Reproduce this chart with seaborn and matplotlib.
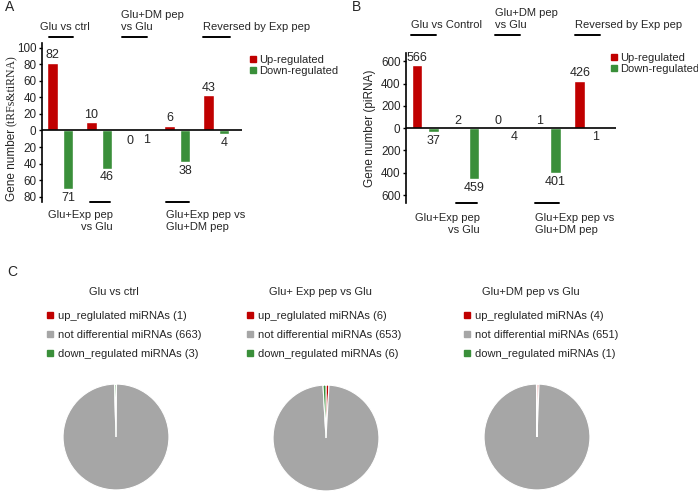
import numpy as np
import pandas as pd
import matplotlib
matplotlib.use('Agg')
import matplotlib.pyplot as plt
from matplotlib.patches import Patch
from matplotlib.lines import Line2D
import seaborn as sns

sns.set_style('white')
plt.rcParams['font.family'] = ['Liberation Sans', 'DejaVu Sans']

# panel A / B data
groups = ['Glu vs ctrl', 'Glu+Exp pep vs Glu', 'Glu+DM pep vs Glu',
          'Glu+Exp pep vs Glu+DM pep', 'Reversed by Exp pep']
kinds = ['Up-regulated', 'Down-regulated']
up_trf = [82, 10, 0, 6, 43]
down_trf = [71, 46, 1, 38, 4]
up_pirna = [566, 2, 0, 1, 426]
down_pirna = [37, 459, 4, 401, 1]
trf_ticks = [100, 80, 60, 40, 20, 0, -20, -40, -60, -80]
pirna_ticks = [600, 400, 200, 0, -200, -400, -600]

# panel C data
pie_titles = ['Glu vs ctrl', 'Glu+ Exp pep vs Glu', 'Glu+DM pep vs Glu']
pie_up = [1, 6, 4]
pie_not = [663, 653, 651]
pie_down = [3, 6, 1]

RED = '#C00000'
GREEN = '#3A8F3A'
GREY = '#A6A6A6'

W, H = 698, 493
fig = plt.figure(figsize=(W / 100, H / 100), dpi=100)


def px(x, y):
    return x / W, 1 - y / H


def box(l, t, r, b):
    return [l / W, 1 - b / H, (r - l) / W, (b - t) / H]


def txt(x, y, s, **kw):
    kw.setdefault('fontsize', 8)
    kw.setdefault('va', 'center')
    fig.text(*px(x, y), s, **kw)


def hline(x0, x1, y, lw=1.4):
    fig.add_artist(Line2D([x0 / W, x1 / W], [1 - y / H] * 2, color='black', lw=lw))


def bar_panel(rect, up, down, ticks, ylim, xlim, legend_at, zero_below=False):
    ax = fig.add_axes(box(*rect))
    df = pd.DataFrame({
        'group': groups * 2,
        'value': list(up) + [-d for d in down],
        'kind': [kinds[0]] * len(up) + [kinds[1]] * len(down),
    })
    sns.barplot(data=df, x='group', y='value', hue='kind', hue_order=kinds,
                palette=[RED, GREEN], width=0.8, gap=0.35, saturation=1,
                errorbar=None, ax=ax)
    ax.set_xlim(*xlim)
    ax.set_ylim(*ylim)
    ax.axhline(0, color='black', lw=1.2)
    for s in ['top', 'right', 'bottom']:
        ax.spines[s].set_visible(False)
    ax.spines['left'].set_color('black')
    ax.spines['left'].set_linewidth(1.2)
    ax.set_xticks([])
    ax.set_xlabel('')
    ax.set_ylabel('')
    ax.set_yticks(ticks)
    ax.set_yticklabels([str(abs(t)) for t in ticks])
    ax.tick_params(axis='y', direction='out', length=2.5, width=1,
                   labelsize=8.4, pad=1.5, left=True, color='black')

    # value labels
    for bar, v in zip(ax.containers[0], up):
        xc = bar.get_x() + bar.get_width() / 2
        if v == 0 and zero_below:
            ax.annotate(str(v), (xc, 0), xytext=(0, -3), textcoords='offset points',
                        ha='center', va='top', fontsize=9)
        else:
            ax.annotate(str(v), (xc, v), xytext=(0, 1), textcoords='offset points',
                        ha='center', va='bottom', fontsize=9)
    for bar, v in zip(ax.containers[1], down):
        xc = bar.get_x() + bar.get_width() / 2
        ax.annotate(str(v), (xc, -v), xytext=(0, -2), textcoords='offset points',
                    ha='center', va='top', fontsize=9)

    handles = [Patch(color=RED), Patch(color=GREEN)]
    ax.legend(handles, kinds, loc='upper left', bbox_to_anchor=px(*legend_at),
              bbox_transform=fig.transFigure, frameon=False, fontsize=8,
              handlelength=0.5, handleheight=0.5, handletextpad=0.3,
              labelspacing=0.1, borderpad=0, borderaxespad=0)
    return ax


# ---- panel A ----
bar_panel((42, 43, 242, 202), up_trf, down_trf, trf_ticks, (-86.4, 105.7),
          (-0.47, 4.66), (250, 55), zero_below=True)
txt(12, 165, 'Gene number', rotation=90, ha='center', fontsize=8.5)
txt(12, 91, '(tRFs&tiRNA)', rotation=90, ha='center', fontsize=8.5,
    family=['Liberation Serif', 'DejaVu Serif'])
txt(5, 7, 'A', fontsize=10)
txt(40, 27, 'Glu vs ctrl')
hline(49, 73, 37)
txt(121, 21, 'Glu+DM pep\nvs Glu', linespacing=1.3)
hline(122, 147, 37)
txt(203, 27, 'Reversed by Exp pep')
hline(203, 230, 37)
hline(90, 110, 202)
txt(113, 221, 'Glu+Exp pep\nvs Glu', ha='right', multialignment='right', linespacing=1.3)
hline(166, 189, 202)
txt(166, 221, 'Glu+Exp pep vs\nGlu+DM pep', ha='left', linespacing=1.3)

# ---- panel B ----
bar_panel((406, 53, 616, 203), up_pirna, down_pirna, pirna_ticks, (-671, 674),
          (-0.47, 4.69), (611, 53))
txt(370, 128, 'Gene number (piRNA)', rotation=90, ha='center', fontsize=8.5)
txt(352, 7, 'B', fontsize=10)
txt(411, 25, 'Glu vs Control')
hline(411, 436, 35)
txt(495, 19, 'Glu+DM pep\nvs Glu', linespacing=1.3)
hline(495, 520, 35)
txt(575, 25, 'Reversed by Exp pep')
hline(575, 600, 35)
hline(456, 477, 203)
txt(480, 224, 'Glu+Exp pep\nvs Glu', ha='right', multialignment='right', linespacing=1.3)
hline(535, 559, 203)
txt(535, 224, 'Glu+Exp pep vs\nGlu+DM pep', ha='left', linespacing=1.3)

# ---- panel C ----
txt(7, 272, 'C', fontsize=10)
pie_centers = [(116, 437), (326, 438), (537, 437)]
title_x = [114, 320, 531]
legend_x = [47, 247, 464]
for i in range(3):
    cx, cy = pie_centers[i]
    ax = fig.add_axes(box(cx - 54, cy - 54, cx + 54, cy + 54))
    vals = [pie_up[i], pie_not[i], pie_down[i]]
    ax.pie(vals, colors=[RED, GREY, GREEN], startangle=90, counterclock=False,
           wedgeprops=dict(edgecolor='white', linewidth=0.8))
    ax.set_xlim(-1.02, 1.02)
    ax.set_ylim(-1.02, 1.02)
    ax.set_aspect('equal')
    txt(title_x[i], 292, pie_titles[i], ha='center')
    labels = [f'up_reglulated miRNAs ({pie_up[i]})',
              f'not differential miRNAs ({pie_not[i]})',
              f'down_regulated miRNAs ({pie_down[i]})']
    handles = [Patch(color=RED), Patch(color=GREY), Patch(color=GREEN)]
    ax.legend(handles, labels, loc='upper left', bbox_to_anchor=px(legend_x[i], 311),
              bbox_transform=fig.transFigure, frameon=False, fontsize=8,
              handlelength=0.5, handleheight=0.5, handletextpad=0.45,
              labelspacing=0.82, borderpad=0, borderaxespad=0)

fig.savefig('out.png', dpi=100)
